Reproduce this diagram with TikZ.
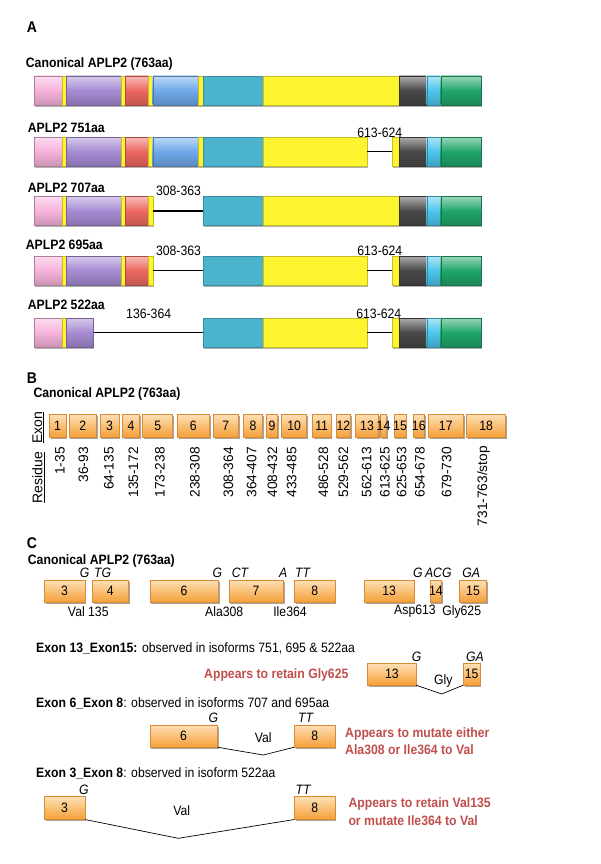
\documentclass[tikz,border=0pt]{standalone}
\usepackage{fontspec}
\setmainfont[FakeStretch=0.9]{Liberation Sans}
\newfontfamily\plainsans{Liberation Sans}
\usetikzlibrary{shadows}
\definecolor{pinkS}{HTML}{F7B3DB}
\definecolor{purS}{HTML}{A68BD3}
\definecolor{redS}{HTML}{EC6861}
\definecolor{bluS}{HTML}{6FA8EA}
\definecolor{tealS}{HTML}{4BB4CC}
\definecolor{yelS}{HTML}{FFF430}
\definecolor{grayS}{HTML}{484848}
\definecolor{lbluS}{HTML}{4CC6EC}
\definecolor{grnS}{HTML}{1FA56A}
\definecolor{exTop}{HTML}{FEE0B6}
\definecolor{exBot}{HTML}{F5A038}
\definecolor{exEdge}{HTML}{D98B35}
\definecolor{redtxt}{HTML}{C0504D}
\newcommand\mkseg[5]{\pgfmathsetmacro\segW{#3-#2}\pgfmathsetmacro\segC{(#2+#3)/2}%
  \node[segbase,#5,minimum width=\segW pt] (#1) at (\segC,#4) {};}
\newcommand\mkexon[6]{\pgfmathsetmacro\segW{#3-#2}\pgfmathsetmacro\segC{(#2+#3)/2}%
  \node[exonbox,minimum width=\segW pt,minimum height=#5pt,label={[exonnum]center:#6}] (#1) at (\segC,#4) {};}
\tikzset{
  segbase/.style={rectangle,inner sep=0pt,minimum height=29pt,line width=0.4pt,
    drop shadow={shadow xshift=0.8pt,shadow yshift=-1.6pt,opacity=0.3,fill=black}},
  grad/.style={top color=#1!45!white,bottom color=#1!82!black,middle color=#1,draw=#1!70!black},
  flat/.style={fill=#1,draw=#1!78!black},
  gapline/.style={draw=black,line width=1.6pt},
  exonbox/.style={rectangle,inner sep=0pt,top color=exTop,bottom color=exBot,draw=exEdge,line width=0.5pt,
    drop shadow={shadow xshift=1.2pt,shadow yshift=-1.5pt,opacity=0.35,fill=black}},
  exonnum/.style={inner sep=0pt,font=\fontsize{13.6}{16}\selectfont},
  t14/.style={inner sep=0pt,font=\fontsize{13.6}{16}\selectfont},
  b14/.style={inner sep=0pt,font=\bfseries\fontsize{13.6}{16}\selectfont},
  panel/.style={inner sep=0pt,anchor=west,font=\bfseries\fontsize{15.5}{18}\selectfont},
  ital/.style={inner sep=0pt,font=\itshape\fontsize{13.6}{16}\selectfont},
  reslab/.style={inner sep=0pt,rotate=90,anchor=east,font=\plainsans\fontsize{13.7}{16}\selectfont},
  redt/.style={inner sep=0pt,anchor=west,text=redtxt,font=\bfseries\fontsize{13.6}{16}\selectfont},
  splice/.style={draw=black,line width=0.7pt},
}
\begin{document}
\begin{tikzpicture}[x=1pt,y=-1pt]
\fill[white] (0,0) rectangle (600,864);
\useasboundingbox (0,0) rectangle (600,864);

% ---------------- Panel A ----------------
\node[panel] (pA) at (26.7,27) {A};
\node[b14,anchor=west] (tA0) at (25.7,64) {Canonical APLP2 (763aa)};
% row 1
\mkseg{a1a}{34.3}{61.7}{90.5}{grad=pinkS}
\mkseg{a1y1}{61.7}{66}{90.5}{flat=yelS}
\mkseg{a1b}{66}{121}{90.5}{grad=purS}
\mkseg{a1y2}{121}{125.3}{90.5}{flat=yelS}
\mkseg{a1c}{125.3}{148.3}{90.5}{grad=redS}
\mkseg{a1y3}{148.3}{152.7}{90.5}{flat=yelS}
\mkseg{a1d}{152.7}{198.3}{90.5}{grad=bluS}
\mkseg{a1y4}{198.3}{202.7}{90.5}{flat=yelS}
\mkseg{a1e}{202.7}{262.7}{90.5}{flat=tealS}
\mkseg{a1f}{262.7}{399}{90.5}{flat=yelS}
\mkseg{a1g}{399}{426.7}{90.5}{grad=grayS}
\mkseg{a1h}{426.7}{440.7}{90.5}{grad=lbluS}
\mkseg{a1i}{440.7}{481}{90.5}{grad=grnS}
% row 2
\node[b14,anchor=west] (tA1) at (27.7,127.5) {APLP2 751aa};
\node[t14] (r2l1) at (379.8,133) {613-624};
\mkseg{a2a}{34.3}{61.7}{151.5}{grad=pinkS}
\mkseg{a2y1}{61.7}{66}{151.5}{flat=yelS}
\mkseg{a2b}{66}{121}{151.5}{grad=purS}
\mkseg{a2y2}{121}{125.3}{151.5}{flat=yelS}
\mkseg{a2c}{125.3}{148.3}{151.5}{grad=redS}
\mkseg{a2y3}{148.3}{152.7}{151.5}{flat=yelS}
\mkseg{a2d}{152.7}{198.3}{151.5}{grad=bluS}
\mkseg{a2y4}{198.3}{202.7}{151.5}{flat=yelS}
\mkseg{a2e}{202.7}{262.7}{151.5}{flat=tealS}
\mkseg{a2f}{262.7}{366.7}{151.5}{flat=yelS}
\mkseg{a2y5}{391.7}{399}{151.5}{flat=yelS}
\mkseg{a2g}{399}{426.7}{151.5}{grad=grayS}
\mkseg{a2h}{426.7}{440.7}{151.5}{grad=lbluS}
\mkseg{a2i}{440.7}{481}{151.5}{grad=grnS}
\draw[gapline] (a2f.east) -- (a2y5.west);
% row 3
\node[b14,anchor=west] (tA2) at (27.7,187.5) {APLP2 707aa};
\node[t14] (r3l1) at (178.5,190.5) {308-363};
\mkseg{a3a}{34.3}{61.7}{211}{grad=pinkS}
\mkseg{a3y1}{61.7}{66}{211}{flat=yelS}
\mkseg{a3b}{66}{121}{211}{grad=purS}
\mkseg{a3y2}{121}{125.3}{211}{flat=yelS}
\mkseg{a3c}{125.3}{148.3}{211}{grad=redS}
\mkseg{a3y3}{148.3}{152.7}{211}{flat=yelS}
\mkseg{a3e}{202.7}{262.7}{211}{flat=tealS}
\mkseg{a3f}{262.7}{399}{211}{flat=yelS}
\mkseg{a3g}{399}{426.7}{211}{grad=grayS}
\mkseg{a3h}{426.7}{440.7}{211}{grad=lbluS}
\mkseg{a3i}{440.7}{481}{211}{grad=grnS}
\draw[gapline] (a3y3.east) -- (a3e.west);
% row 4
\node[b14,anchor=west] (tA3) at (25.7,245) {APLP2 695aa};
\node[t14] (r4l1) at (178.5,251) {308-363};
\node[t14] (r4l2) at (379.8,251) {613-624};
\mkseg{a4a}{34.3}{61.7}{270.5}{grad=pinkS}
\mkseg{a4y1}{61.7}{66}{270.5}{flat=yelS}
\mkseg{a4b}{66}{121}{270.5}{grad=purS}
\mkseg{a4y2}{121}{125.3}{270.5}{flat=yelS}
\mkseg{a4c}{125.3}{148.3}{270.5}{grad=redS}
\mkseg{a4y3}{148.3}{152.7}{270.5}{flat=yelS}
\mkseg{a4e}{202.7}{262.7}{270.5}{flat=tealS}
\mkseg{a4f}{262.7}{366.7}{270.5}{flat=yelS}
\mkseg{a4y5}{391.7}{399}{270.5}{flat=yelS}
\mkseg{a4g}{399}{426.7}{270.5}{grad=grayS}
\mkseg{a4h}{426.7}{440.7}{270.5}{grad=lbluS}
\mkseg{a4i}{440.7}{481}{270.5}{grad=grnS}
\draw[gapline] (a4y3.east) -- (a4e.west);
\draw[gapline] (a4f.east) -- (a4y5.west);
% row 5
\node[b14,anchor=west] (tA4) at (27.7,305) {APLP2 522aa};
\node[t14] (r5l1) at (148.7,314) {136-364};
\node[t14] (r5l2) at (378.8,313.5) {613-624};
\mkseg{a5a}{34.3}{61.7}{332.5}{grad=pinkS}
\mkseg{a5y1}{61.7}{66}{332.5}{flat=yelS}
\mkseg{a5b}{66}{93.3}{332.5}{grad=purS}
\mkseg{a5e}{202.7}{262.7}{332.5}{flat=tealS}
\mkseg{a5f}{262.7}{366.7}{332.5}{flat=yelS}
\mkseg{a5y5}{391.7}{399}{332.5}{flat=yelS}
\mkseg{a5g}{399}{426.7}{332.5}{grad=grayS}
\mkseg{a5h}{426.7}{440.7}{332.5}{grad=lbluS}
\mkseg{a5i}{440.7}{481}{332.5}{grad=grnS}
\draw[gapline] (a5b.east) -- (a5e.west);
\draw[gapline] (a5f.east) -- (a5y5.west);

% ---------------- Panel B ----------------
\node[panel] (pB) at (26.7,378.3) {B};
\node[b14,anchor=west] (tB0) at (33.3,394) {Canonical APLP2 (763aa)};
\node[inner sep=0pt,rotate=90,font=\plainsans\fontsize{14}{16}\selectfont] (exlab) at (38.3,427.5) {\underline{Exon}};
\node[inner sep=0pt,rotate=90,font=\plainsans\fontsize{14}{16}\selectfont] (reslabel) at (38.3,477.5) {\underline{Residue}};
\mkexon{e1}{49.3}{66}{425.5}{23}{1}
\mkexon{e2}{69}{96.7}{425.5}{23}{2}
\mkexon{e3}{100}{119}{425.5}{23}{3}
\mkexon{e4}{122.7}{139.3}{425.5}{23}{4}
\mkexon{e5}{142.7}{172.7}{425.5}{23}{5}
\mkexon{e6}{177.3}{209.3}{425.5}{23}{6}
\mkexon{e7}{213.3}{238.3}{425.5}{23}{7}
\mkexon{e8}{243.3}{262.7}{425.5}{23}{8}
\mkexon{e9}{266.7}{277.3}{425.5}{23}{9}
\mkexon{e10}{281.7}{306.7}{425.5}{23}{10}
\mkexon{e11}{312.3}{331}{425.5}{23}{11}
\mkexon{e12}{336}{350.7}{425.5}{23}{12}
\mkexon{e13}{355.7}{378.3}{425.5}{23}{13}
\mkexon{e14}{380.3}{386.7}{425.5}{23}{14}
\mkexon{e15}{394}{406}{425.5}{23}{15}
\mkexon{e16}{413.3}{424.3}{425.5}{23}{16}
\mkexon{e17}{428.3}{463.3}{425.5}{23}{17}
\mkexon{e18}{466.7}{505.7}{425.5}{23}{18}
\node[reslab] (rs1) at (60,447) {1-35};
\node[reslab] (rs2) at (83.3,447) {36-93};
\node[reslab] (rs3) at (109,447) {64-135};
\node[reslab] (rs4) at (133.3,447) {135-172};
\node[reslab] (rs5) at (160,447) {173-238};
\node[reslab] (rs6) at (195,447) {238-308};
\node[reslab] (rs7) at (228.3,447) {308-364};
\node[reslab] (rs8) at (251.7,447) {364-407};
\node[reslab] (rs9) at (272.5,447) {408-432};
\node[reslab] (rs10) at (291.7,447) {433-485};
\node[reslab] (rs11) at (323.3,447) {486-528};
\node[reslab] (rs12) at (343.3,447) {529-562};
\node[reslab] (rs13) at (366.7,447) {562-613};
\node[reslab] (rs14) at (385,447) {613-625};
\node[reslab] (rs15) at (401.7,447) {625-653};
\node[reslab] (rs16) at (420,447) {654-678};
\node[reslab] (rs17) at (446.7,447) {679-730};
\node[reslab] (rs18) at (483.5,446) {731-763/stop};

% ---------------- Panel C ----------------
\node[panel] (pC) at (26.7,543.3) {C};
\node[b14,anchor=west] (tC0) at (27.7,561) {Canonical APLP2 (763aa)};
\node[ital] (i1) at (84.7,573.3) {G};
\node[ital] (i2) at (102.7,573.3) {TG};
\node[ital] (i3) at (217.5,573.3) {G};
\node[ital] (i4) at (240,573.3) {CT};
\node[ital] (i5) at (283.3,573.3) {A};
\node[ital] (i6) at (302.5,573.3) {TT};
\node[ital] (i7) at (418,573.3) {G};
\node[ital] (i8) at (438.3,573.3) {ACG};
\node[ital] (i9) at (471.3,573.3) {GA};
\mkexon{c3}{44.3}{85}{591}{22}{3}
\mkexon{c4}{92.3}{128.3}{591}{22}{4}
\mkexon{c6}{150}{218.3}{591}{22}{6}
\mkexon{c7}{229}{283.3}{591}{22}{7}
\mkexon{c8}{294.3}{335}{591}{22}{8}
\mkexon{c13}{364.3}{414}{591}{22}{13}
\mkexon{c14}{430}{441.7}{591}{22}{14}
\mkexon{c15}{459.3}{486.7}{591}{22}{15}
\node[t14] (n1) at (88.3,611.5) {Val 135};
\node[t14] (n2) at (224.2,611.5) {Ala308};
\node[t14] (n3) at (290,611.5) {Ile364};
\node[t14] (n4) at (415,611.5) {Asp613};
\node[t14] (n5) at (461.7,611.5) {Gly625};

% Exon 13_Exon 15
\node[t14,anchor=west] (h1) at (36,648) {\textbf{Exon 13\_Exon15:} observed in isoforms 751, 695 \& 522aa};
\node[ital] (j1) at (416.7,656.7) {G};
\node[ital] (j2) at (475,656.7) {GA};
\mkexon{d13}{367.7}{416}{674}{22}{13}
\mkexon{d15}{463.3}{480}{674}{22}{15}
\node[t14] (gly) at (443.3,681) {Gly};
\coordinate (v1) at (441.7,694);
\draw[splice] (d13.south east) -- (v1) -- (d15.south west);
\node[redt] (m1) at (204,675) {Appears to retain Gly625};

% Exon 6_Exon 8
\node[t14,anchor=west] (h2) at (36,703.3) {\textbf{Exon 6\_Exon 8}: observed in isoforms 707 and 695aa};
\node[ital] (k1) at (213.3,718) {G};
\node[ital] (k2) at (305.5,718) {TT};
\mkexon{f6}{150}{217.3}{736}{22}{6}
\mkexon{f8}{294.3}{335}{736}{22}{8}
\node[t14] (val1) at (263.3,738) {Val};
\coordinate (v2) at (263.3,755);
\draw[splice] (f6.south east) -- (v2) -- (f8.south west);
\node[redt] (m2) at (345,734) {Appears to mutate either};
\node[redt] (m3) at (345,750) {Ala308 or Ile364 to Val};

% Exon 3_Exon 8
\node[t14,anchor=west] (h3) at (36,773.3) {\textbf{Exon 3\_Exon 8}: observed in isoform 522aa};
\node[ital] (l1) at (83.8,790) {G};
\node[ital] (l2) at (303,790) {TT};
\mkexon{g3}{44.3}{85}{808}{22.6}{3}
\mkexon{g8}{294.3}{335}{808}{22.6}{8}
\node[t14] (val2) at (181.7,811) {Val};
\coordinate (v3) at (178.3,838.3);
\draw[splice] (g3.south east) -- (v3) -- (g8.south west);
\node[redt] (m4) at (348.3,804) {Appears to retain Val135};
\node[redt] (m5) at (348.3,821) {or mutate Ile364 to Val};
\end{tikzpicture}
\end{document}
